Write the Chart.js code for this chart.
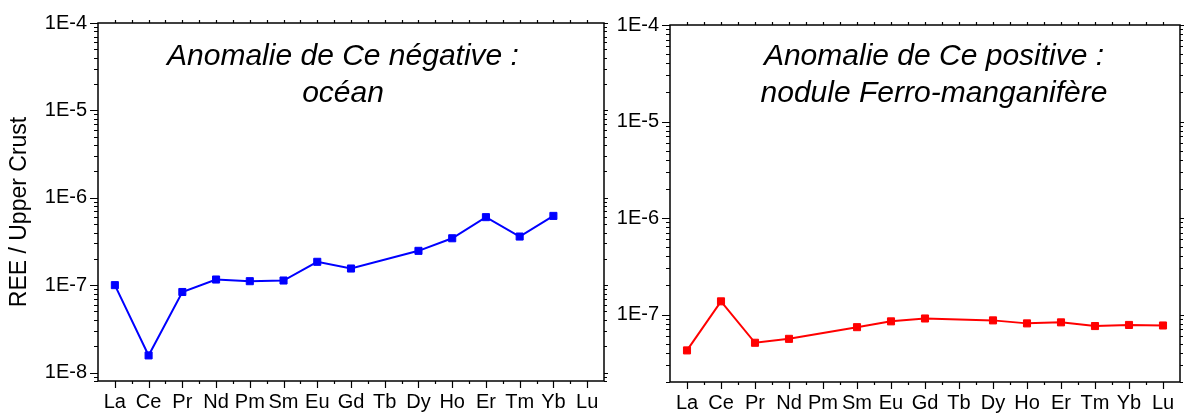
<!DOCTYPE html>
<html>
<head>
<meta charset="utf-8">
<script src="https://cdn.jsdelivr.net/npm/chart.js@4.4.1/dist/chart.umd.min.js"></script>
<style>
  html, body { margin: 0; padding: 0; background: #fff; }
  body { width: 1186px; height: 414px; position: relative; overflow: hidden; }
  .panel { position: absolute; top: 0; height: 414px; }
  #leftPanel { left: 0; width: 612px; }
  #rightPanel { left: 612px; width: 574px; }
</style>
</head>
<body>
<div class="panel" id="leftPanel"><canvas id="oceanChart"></canvas></div>
<div class="panel" id="rightPanel"><canvas id="noduleChart"></canvas></div>
<script>
// REE normalises a la croute superieure
const elements = ['La', 'Ce', 'Pr', 'Nd', 'Pm', 'Sm', 'Eu', 'Gd', 'Tb', 'Dy', 'Ho', 'Er', 'Tm', 'Yb', 'Lu'];
const oceanValues = [1.0e-7, 1.57e-8, 8.35e-8, 1.16e-7, 1.11e-7, 1.13e-7, 1.85e-7, 1.55e-7, null, 2.47e-7, 3.44e-7, 6.0e-7, 3.6e-7, 6.2e-7, null];
const noduleValues = [4.25e-8, 1.37e-7, 5.1e-8, 5.6e-8, null, 7.4e-8, 8.5e-8, 9.1e-8, null, 8.7e-8, 8.1e-8, 8.3e-8, 7.6e-8, 7.8e-8, 7.7e-8];

const oceanTicks = [1e-8, 1e-7, 1e-6, 1e-5, 1e-4];
const oceanTickLabels = ['1E-8', '1E-7', '1E-6', '1E-5', '1E-4'];
const noduleTicks = [1e-7, 1e-6, 1e-5, 1e-4];
const noduleTickLabels = ['1E-7', '1E-6', '1E-5', '1E-4'];

const oceanTitle = ['Anomalie de Ce négative :', 'océan'];
const noduleTitle = ['Anomalie de Ce positive :', 'nodule Ferro-manganifère'];
const yAxisTitle = 'REE / Upper Crust';

Chart.defaults.font.family = "'Liberation Sans', Arial, sans-serif";
Chart.defaults.color = '#000';

// cadre, graduations majeures et mineures
const framePlugin = {
    id: 'frame',
    afterDraw(chart) {
        const ctx = chart.ctx;
        const a = chart.chartArea;
        const xs = chart.scales.x;
        const ys = chart.scales.y;
        ctx.save();
        ctx.strokeStyle = '#000';
        ctx.lineWidth = 1.5;
        ctx.strokeRect(a.left, a.top, a.right - a.left, a.bottom - a.top);

        ctx.lineWidth = 1.2;
        ctx.beginPath();
        // axe y : graduations log
        const e0 = Math.floor(Math.log10(ys.min));
        const e1 = Math.ceil(Math.log10(ys.max));
        for (let e = e0; e <= e1; e++) {
            for (let k = 1; k <= 9; k++) {
                const v = k * Math.pow(10, e);
                if (v < ys.min * 0.999 || v > ys.max * 1.001) continue;
                const y = Math.round(ys.getPixelForValue(v)) + 0.5;
                const len = k === 1 ? 8 : 4;
                ctx.moveTo(a.left, y);
                ctx.lineTo(a.left - len, y);
                ctx.moveTo(a.right, y);
                ctx.lineTo(a.right + (k === 1 ? 4 : 3), y);
            }
        }
        // axe x : graduations aux categories et entre elles
        const step = xs.getPixelForValue(1) - xs.getPixelForValue(0);
        for (let i = 0; i < elements.length; i++) {
            const x = Math.round(xs.getPixelForValue(i)) + 0.5;
            ctx.moveTo(x, a.bottom);
            ctx.lineTo(x, a.bottom + 7);
            ctx.moveTo(x, a.top);
            ctx.lineTo(x, a.top - 3);
            const xm = Math.round(xs.getPixelForValue(i) + step / 2) + 0.5;
            if (i < elements.length - 1) {
                ctx.moveTo(xm, a.bottom);
                ctx.lineTo(xm, a.bottom + 3);
                ctx.moveTo(xm, a.top);
                ctx.lineTo(xm, a.top - 3);
            }
        }
        ctx.stroke();
        ctx.restore();
    }
};

const textPlugin = {
    id: 'texts',
    afterDraw(chart, args, opts) {
        const ctx = chart.ctx;
        ctx.save();
        ctx.fillStyle = '#000';
        ctx.textAlign = 'center';
        ctx.textBaseline = 'alphabetic';
        ctx.font = "italic 30px 'Liberation Sans', Arial, sans-serif";
        opts.lines.forEach((line, i) => {
            ctx.fillText(line, opts.titleX, opts.titleY + i * 37);
        });
        if (opts.yTitle) {
            ctx.translate(opts.yTitleX, opts.yTitleY);
            ctx.rotate(-Math.PI / 2);
            ctx.textBaseline = 'middle';
            ctx.font = "23px 'Liberation Sans', Arial, sans-serif";
            ctx.fillText(opts.yTitle, 0, 0);
        }
        ctx.restore();
    }
};

function makeChart(canvasId, values, color, ticks, tickLabels, yMin, frame) {
    return new Chart(document.getElementById(canvasId).getContext('2d'), {
        type: 'line',
        data: {
            labels: elements,
            datasets: [{
                data: values,
                borderColor: color,
                backgroundColor: color,
                borderWidth: 2,
                pointStyle: 'rect',
                pointRadius: 5,
                pointBorderWidth: 1,
                pointBorderColor: color,
                pointBackgroundColor: color,
                spanGaps: true,
                tension: 0
            }]
        },
        options: {
            responsive: true,
            maintainAspectRatio: false,
            animation: false,
            layout: { padding: { top: frame.top, right: frame.right, left: 0, bottom: 0 } },
            plugins: {
                legend: { display: false },
                tooltip: { enabled: false },
                texts: {
                    lines: frame.title,
                    titleX: frame.titleX,
                    titleY: 65,
                    yTitle: frame.yTitle,
                    yTitleX: 20,
                    yTitleY: 212
                }
            },
            scales: {
                x: {
                    type: 'category',
                    offset: true,
                    grid: { display: false, drawTicks: false },
                    border: { display: false },
                    ticks: { font: { size: 20 }, padding: 9, maxRotation: 0, autoSkip: false },
                    afterFit: (s) => { s.height = frame.xHeight; }
                },
                y: {
                    type: 'logarithmic',
                    min: yMin,
                    max: 1e-4,
                    grid: { display: false, drawTicks: false },
                    border: { display: false },
                    afterBuildTicks: (s) => { s.ticks = ticks.map(v => ({ value: v })); },
                    ticks: {
                        font: { size: 20 },
                        padding: 11,
                        autoSkip: false,
                        callback: (v, i) => tickLabels[i]
                    },
                    afterFit: (s) => { s.width = frame.yWidth; }
                }
            }
        },
        plugins: [framePlugin, textPlugin]
    });
}

makeChart('oceanChart', oceanValues, '#0000ff', oceanTicks, oceanTickLabels, 8e-9, {
    top: 23, right: 8, xHeight: 33, yWidth: 98,
    title: oceanTitle, titleX: 343, yTitle: yAxisTitle
});

makeChart('noduleChart', noduleValues, '#ff0000', noduleTicks, noduleTickLabels, 2e-8, {
    top: 25, right: 2, xHeight: 32, yWidth: 58,
    title: noduleTitle, titleX: 322, yTitle: null
});
</script>
</body>
</html>
